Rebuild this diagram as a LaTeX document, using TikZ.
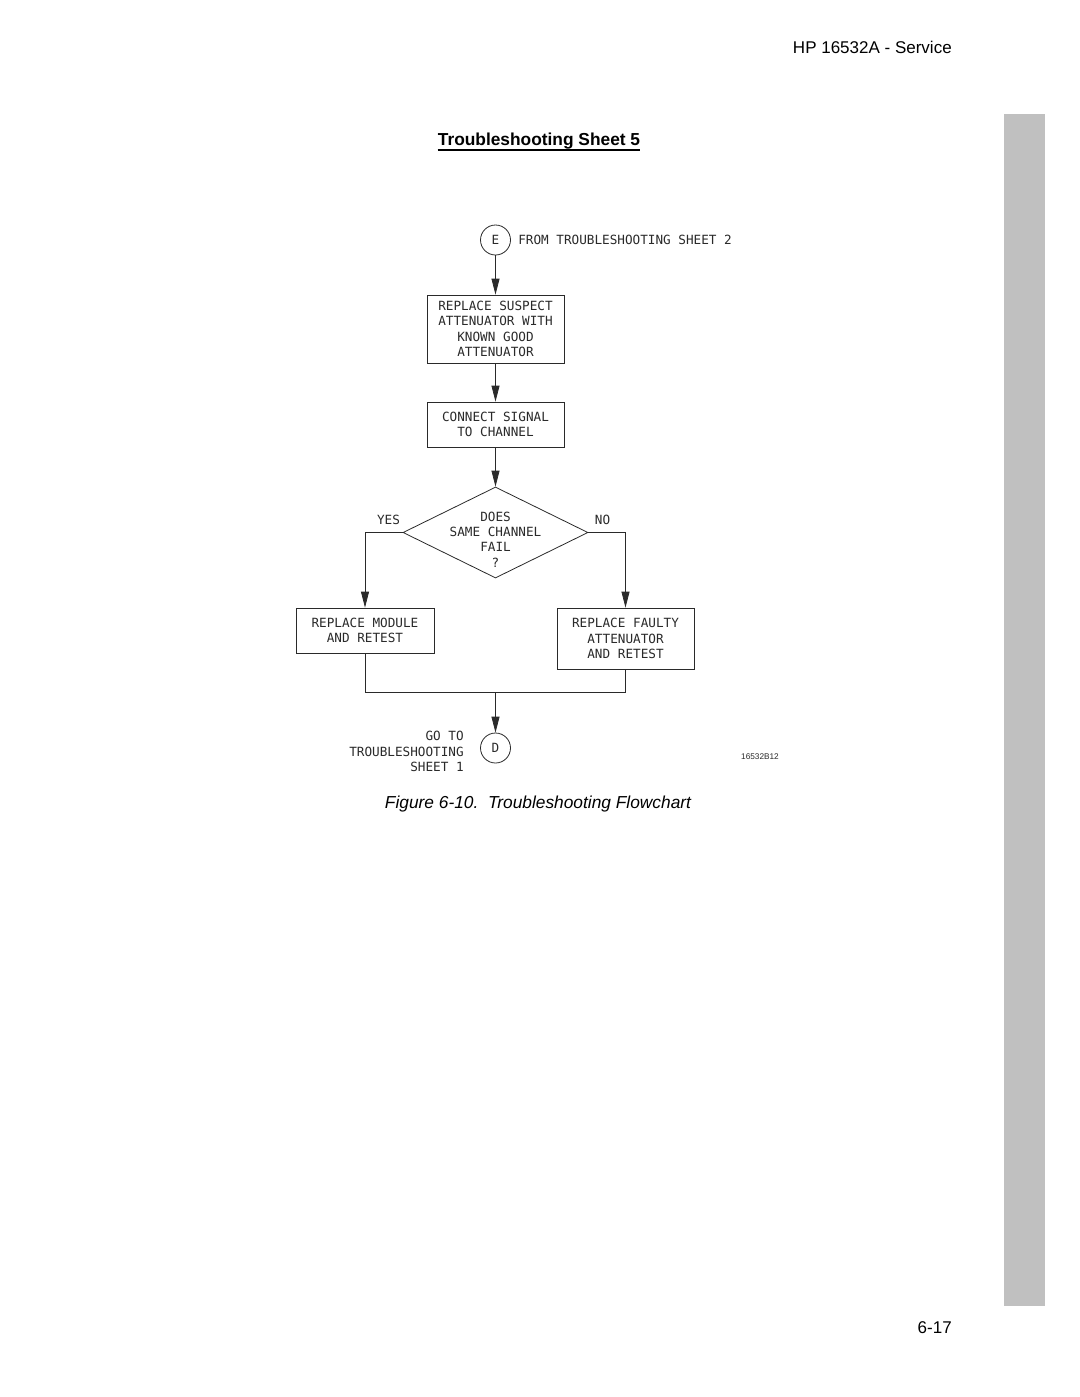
\documentclass[tikz,border=0pt]{standalone}
\usepackage{fontspec}
\setmainfont{Liberation Sans}
\newfontfamily\cadfont{DejaVu Sans Mono}
\usetikzlibrary{arrows.meta,shapes.geometric}
\definecolor{bargray}{HTML}{C0C0C0}
\definecolor{ink}{HTML}{2A2A2A}
\begin{document}
\begin{tikzpicture}[x=0.75pt,y=-0.75pt,
  cad/.style={font=\cadfont\fontsize{9.5}{11.5}\selectfont, text=ink, inner sep=0pt, align=center},
  flowbox/.style={cad, draw=ink, line width=0.6pt, rectangle},
  conn/.style={cad, circle, draw=ink, line width=0.6pt, minimum size=22.5pt},
  wire/.style={draw=ink, line width=0.6pt},
  flow/.style={wire, -{Triangle[length=12pt,width=6pt]}},
  hdr/.style={font=\fontsize{12.75}{15}\selectfont, inner sep=0pt},
  titlestyle/.style={font=\fontsize{13}{15}\selectfont\bfseries, inner sep=0pt},
  capstyle/.style={font=\fontsize{13}{15}\selectfont\itshape, inner sep=0pt},
  smallcode/.style={font=\fontsize{6.2}{7}\selectfont, text=ink, inner sep=0pt}
]
\useasboundingbox (0,0) rectangle (1080,1397);
\fill[white] (0,0) rectangle (1080,1397);
\fill[bargray] (1004,114) rectangle (1045,1306);

\node[hdr, anchor=base east] (hdr) at (952,53) {HP 16532A - Service};
\node[titlestyle, anchor=base] (title) at (539,145) {Troubleshooting Sheet 5};
\draw[line width=1.1pt] ([yshift=-3.6pt]title.base west) -- ([yshift=-3.6pt]title.base east);

\node[conn] (E) at (495.5,240) {E};
\node[cad, anchor=west] (from) at (518,240) {FROM TROUBLESHOOTING SHEET 2};

\node[flowbox, minimum width=102.75pt, minimum height=51pt] (b1) at (495.5,329)
  {REPLACE SUSPECT\\ATTENUATOR WITH\\KNOWN GOOD\\ATTENUATOR};
\node[flowbox, minimum width=102.75pt, minimum height=33.75pt] (b2) at (495.5,424.5)
  {CONNECT SIGNAL\\TO CHANNEL};
\node[diamond, draw=ink, line width=0.6pt, inner sep=0pt, minimum width=138.75pt, minimum height=68.25pt] (dec) at (495.5,532.5) {};
\node[cad] (dect) at (495.5,539.5) {DOES\\SAME CHANNEL\\FAIL\\?};
\node[cad] (yes) at (388.5,520) {YES};
\node[cad] (no) at (602.5,520) {NO};

\node[flowbox, minimum width=103.5pt, minimum height=33.75pt] (b3) at (365,630.5)
  {REPLACE MODULE\\AND RETEST};
\node[flowbox, minimum width=102.75pt, minimum height=45.75pt] (b4) at (625.5,638.5)
  {REPLACE FAULTY\\ATTENUATOR\\AND RETEST};

\coordinate (join) at (495.5,692);
\node[conn] (D) at (495.5,748) {D};
\node[cad, anchor=east, align=right] (goto) at (464,751.5) {GO TO\\TROUBLESHOOTING\\SHEET 1};
\node[smallcode] (code) at (760,757) {16532B12};

\node[capstyle, anchor=base] (cap) at (538,808) {Figure 6-10.\ \ Troubleshooting Flowchart};
\node[hdr, anchor=base east] (page) at (952,1333) {6-17};

\draw[flow] (E) -- (b1);
\draw[flow] (b1) -- (b2);
\draw[flow] (b2) -- (dec);
\draw[flow] (dec.west) -| (b3.north);
\draw[flow] (dec.east) -| (b4.north);
\draw[wire] (b3.south) -- (b3.south |- join) -- (b4.south |- join) -- (b4.south);
\draw[flow] (join) -- (D);
\end{tikzpicture}
\end{document}
